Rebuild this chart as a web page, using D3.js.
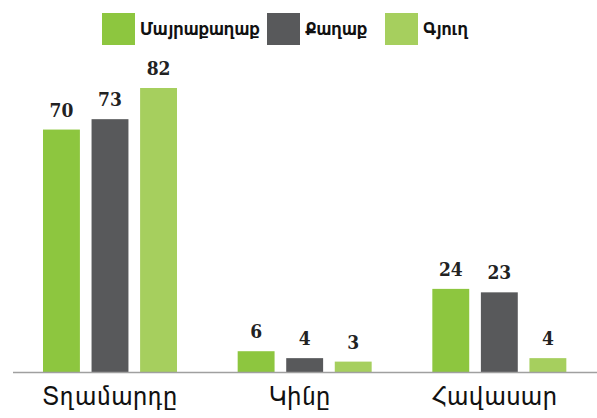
<!DOCTYPE html>
<html><head><meta charset="utf-8">
<script src="https://cdn.jsdelivr.net/npm/d3@7"></script>
<style>body{margin:0;background:#fff}svg{display:block}</style>
</head><body>
<script>
const categories = ["Տղամարդը", "Կինը", "Հավասար"];
const seriesNames = ["Մայրաքաղաք", "Քաղաք", "Գյուղ"];
const capital = [70, 6, 24];
const city = [73, 4, 23];
const village = [82, 3, 4];
const colors = ["#8dc63f", "#58595b", "#a6cf5e"];

const W = 597, H = 418;
const svg = d3.select("body").append("svg").attr("width", W).attr("height", H);
const series = [capital, city, village];
const baseY = 372;
const x0 = d3.scaleBand().domain(categories).range([13, 597]).paddingInner(0).paddingOuter(0);
const x1 = d3.scaleBand().domain(seriesNames).range([30, 164]).paddingInner(0.24);
const y = d3.scaleLinear().domain([0, 82]).range([baseY, 88]);

categories.forEach((c, ci) => {
  const g = svg.append("g").attr("transform", `translate(${x0(c)},0)`);
  seriesNames.forEach((s, si) => {
    const v = series[si][ci];
    g.append("rect").attr("x", x1(s)).attr("width", x1.bandwidth())
      .attr("y", y(v)).attr("height", baseY - y(v)).attr("fill", colors[si]);
    g.append("text").attr("x", x1(s) + x1.bandwidth() / 2).attr("y", y(v) - 13)
      .attr("text-anchor", "middle").attr("font-family", "DejaVu Serif")
      .attr("font-stretch", "condensed")
      .attr("font-weight", "bold").attr("font-size", 19).attr("fill", "#222").text(v);
  });
});

svg.append("line").attr("x1", 13).attr("x2", 597).attr("y1", baseY + 0.5).attr("y2", baseY + 0.5)
  .attr("stroke", "#a0a0a0").attr("stroke-width", 1.5);

const xa = svg.append("g").attr("transform", `translate(0,${baseY})`)
  .call(d3.axisBottom(x0).tickSize(0).tickPadding(15));
xa.select(".domain").remove();
xa.selectAll("text").attr("font-family", "FreeSans").attr("font-size", 25)
  .attr("letter-spacing", 1).attr("fill", "#111")
  .attr("dx", (d, i) => [0, -5, -5][i]);

const legX = [102, 267, 385];
seriesNames.forEach((s, i) => {
  svg.append("rect").attr("x", legX[i]).attr("y", 13).attr("width", 33).attr("height", 32).attr("fill", colors[i]);
  svg.append("text").attr("x", legX[i] + 38).attr("y", 35).attr("font-family", "FreeSans")
    .attr("font-weight", "bold").attr("font-size", 17).attr("fill", "#111").text(s);
});
</script>
</body></html>
